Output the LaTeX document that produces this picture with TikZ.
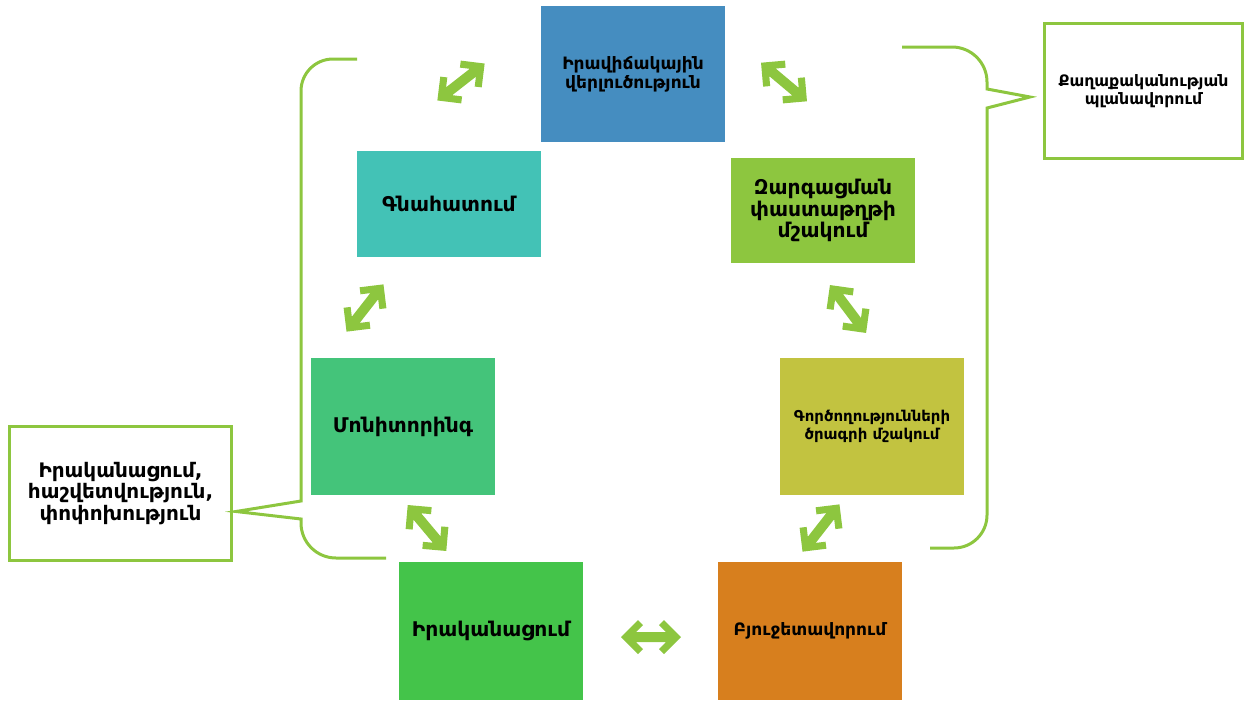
\documentclass[tikz,border=0pt]{standalone}
\usepackage{fontspec}
\setmainfont{DejaVu Sans}
\newfontfamily\armfont{DejaVu Sans}
\usetikzlibrary{positioning}
\definecolor{cblue}{HTML}{458DC0}
\definecolor{cgreen}{HTML}{8DC63F}
\definecolor{cteal}{HTML}{43C2B6}
\definecolor{colive}{HTML}{C2C340}
\definecolor{cmon}{HTML}{44C47A}
\definecolor{cimp}{HTML}{44C44A}
\definecolor{corange}{HTML}{D77F1E}
\tikzset{
  box/.style={draw=none, inner sep=2pt, align=center, text=black,
    font=\armfont\bfseries},
  fsL/.style={font=\armfont\bfseries\fontsize{15.2pt}{16pt}\selectfont},
  fsM/.style={font=\armfont\bfseries\fontsize{12.8pt}{14pt}\selectfont},
  fsC/.style={font=\armfont\bfseries\fontsize{11.8pt}{14pt}\selectfont},
  fsS/.style={font=\armfont\bfseries\fontsize{11.2pt}{13.3pt}\selectfont},
  callout/.style={draw=cgreen, line width=2.25pt, fill=white, align=center,
    text=black},
  bracket/.style={draw=cgreen, line width=2.25pt, line join=miter},
  dblarr/.pic={\fill[cgreen] (-30,0) -- (-13,-17) -- (-8,-12) -- (-15,-5) -- (15,-5)
      -- (8,-12) -- (13,-17) -- (30,0) -- (13,17) -- (8,12) -- (15,5) -- (-15,5)
      -- (-8,12) -- (-13,17) -- cycle;}
}
\begin{document}
\begin{tikzpicture}[x=0.75pt,y=-0.75pt]
\useasboundingbox (0,0) rectangle (1245,700);
% boxes
\node[box, fsM, fill=cblue, minimum width=138pt, minimum height=102pt] (sit) at (633,74)
  {Իրավիճակային\\վերլուծություն};
\node[box, fsL, fill=cgreen, minimum width=138pt, minimum height=78.75pt] (dev) at (823,210.5)
  {Զարգացման\\փաստաթղթի\\մշակում};
\node[box, fsL, fill=cteal, minimum width=138pt, minimum height=79.5pt] (eval) at (449,204)
  {Գնահատում};
\node[box, fsS, fill=colive, minimum width=138pt, minimum height=102.75pt] (act) at (872,426.5)
  {Գործողությունների\\ծրագրի մշակում};
\node[box, fsL, fill=cmon, minimum width=138pt, minimum height=102.75pt] (mon) at (403,426.5)
  {Մոնիտորինգ};
\node[box, fsL, fill=cimp, minimum width=138pt, minimum height=103.5pt] (imp) at (491,631)
  {Իրականացում};
\node[box, fsM, fill=corange, minimum width=138pt, minimum height=103.5pt] (bud) at (810,631)
  {Բյուջետավորում};
% callouts
\node[callout, fsC, minimum width=148.5pt, minimum height=101.25pt] (pol) at (1143.5,91)
  {Քաղաքականության\\պլանավորում};
\node[callout, font=\armfont\bfseries\fontsize{15pt}{16pt}\selectfont, minimum width=166.5pt, minimum height=100.5pt] (rep) at (120.5,493.5)
  {Իրականացում,\\հաշվետվություն,\\փոփոխություն};
% brackets
\coordinate (lbtop) at (357,59);
\coordinate (lbbot) at (386,558);
\coordinate (lbtip) at (236,511.5);
\draw[bracket] (lbtop) -- (333,59) arc[start angle=-90, end angle=-180, radius=32]
  -- (301,501) -- (lbtip) -- (301,519) -- (301,523)
  arc[start angle=180, end angle=90, radius=35] -- (lbbot);
\coordinate (rbtop) at (902,47);
\coordinate (rbbot) at (930,548);
\coordinate (rbtip) at (1030,97);
\draw[bracket] (rbtop) -- (952,47) arc[start angle=-90, end angle=0, radius=35]
  -- (987,89) -- (rbtip) -- (987,108) -- (987,515)
  arc[start angle=0, end angle=90, radius=33] -- (rbbot);
% double arrows
\pic[rotate=38] at (461,82) {dblarr};
\pic[rotate=-40] at (784,82) {dblarr};
\pic[rotate=-53] at (848,309) {dblarr};
\pic[rotate=52] at (821,528) {dblarr};
\pic[rotate=0] at (651,637) {dblarr};
\pic[rotate=-50] at (427,528) {dblarr};
\pic[rotate=52] at (365,308) {dblarr};
\end{tikzpicture}
\end{document}
